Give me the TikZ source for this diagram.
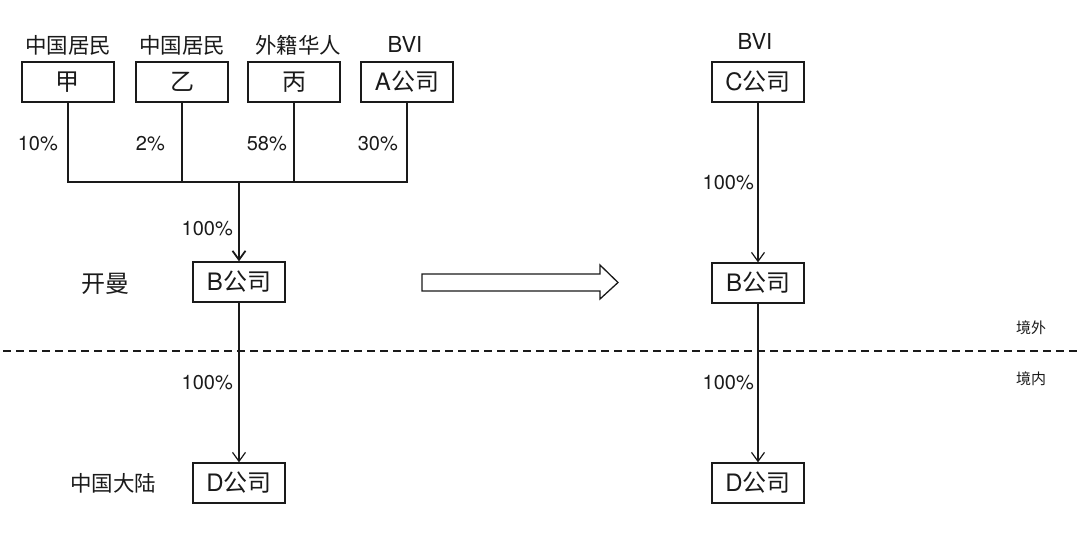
\documentclass[tikz,border=0pt]{standalone}
\usepackage{fontspec}
\setmainfont{TeX Gyre Heros}
\newfontfamily\cjk{Noto Sans CJK SC}
\usetikzlibrary{arrows.meta}
\definecolor{ink}{HTML}{1A1A1A}
\tikzset{
  box/.style={draw=ink, line width=1.3pt, minimum width=92pt, minimum height=40pt, inner sep=0pt, text=ink, font=\fontsize{24}{26}\selectfont},
  lab/.style={text=ink, inner sep=0pt, font=\fontsize{21.5}{24}\selectfont},
  pct/.style={text=ink, inner sep=0pt, font=\fontsize{20}{22}\selectfont, anchor=east},
  side/.style={text=ink, inner sep=0pt, font=\fontsize{15}{17}\selectfont},
  conn/.style={draw=ink, line width=1.2pt},
  arr/.style={conn, -{Straight Barb[length=9pt,width=13pt,line width=1.2pt]}},
  arrthick/.style={draw=ink, line width=1.8pt, -{Straight Barb[length=9pt,width=13pt,line width=1.8pt]}},
}
\begin{document}
\begin{tikzpicture}[x=1pt,y=-1pt]
\useasboundingbox (0,0) rectangle (1080,550);
% top row
\node[box] (jia) at (68,82) {\cjk 甲};
\node[box] (yi) at (182,82) {\cjk 乙};
\node[box] (bing) at (294,82) {\cjk 丙};
\node[box] (A) at (407,82) {A{\cjk 公司}};
\node[lab] (ljia) at (68,45) {\cjk 中国居民};
\node[lab] (lyi) at (182,45) {\cjk 中国居民};
\node[lab] (lbing) at (298,45) {\cjk 外籍华人};
\node[lab, font=\fontsize{22}{24}\selectfont] (lA) at (405,44) {BVI};
% percents
\node[pct] (p1) at (58,144) {10\%};
\node[pct] (p2) at (165,144) {2\%};
\node[pct] (p3) at (287,144) {58\%};
\node[pct] (p4) at (398,144) {30\%};
% left B and D
\node[box] (B) at (239,282) {B{\cjk 公司}};
\node[box] (D) at (239,483) {D{\cjk 公司}};
\node[lab, font=\fontsize{24}{26}\selectfont] (kaiman) at (105,284) {\cjk 开曼};
\node[lab] (dalu) at (113,483) {\cjk 中国大陆};
\coordinate (j) at (239,182);
\draw[conn] (jia.south) |- (j);
\draw[conn] (A.south) |- (j);
\draw[conn] (yi.south) -- (yi.south |- j);
\draw[conn] (bing.south) -- (bing.south |- j);
\draw[arrthick] (j) -- (B.north);
\node[pct] (p5) at (233,229) {100\%};
\draw[arr] (B.south) -- (D.north);
\node[pct] (p6) at (233,383) {100\%};
% big hollow arrow
\draw[draw=ink, line width=1.3pt, fill=white] (422,274) -- (600,274) -- (600,265) -- (618,282.5) -- (600,299) -- (600,291) -- (422,291) -- cycle;
% right
\node[box] (C) at (758,82) {C{\cjk 公司}};
\node[lab, font=\fontsize{22}{24}\selectfont] (lC) at (755,41) {BVI};
\node[box] (B2) at (758,283) {B{\cjk 公司}};
\node[box] (D2) at (758,483) {D{\cjk 公司}};
\draw[arr] (C.south) -- (B2.north);
\draw[arr] (B2.south) -- (D2.north);
\node[pct] (p7) at (754,183) {100\%};
\node[pct] (p8) at (754,383) {100\%};
% border line
\coordinate (dl) at (3,351);
\coordinate (dr) at (1080,351);
\draw[draw=ink, line width=1.2pt, dash pattern=on 8pt off 5pt] (dl) -- (dr);
\node[side] (out) at (1031,328) {\cjk 境外};
\node[side] (in) at (1031,379) {\cjk 境内};
\end{tikzpicture}
\end{document}
